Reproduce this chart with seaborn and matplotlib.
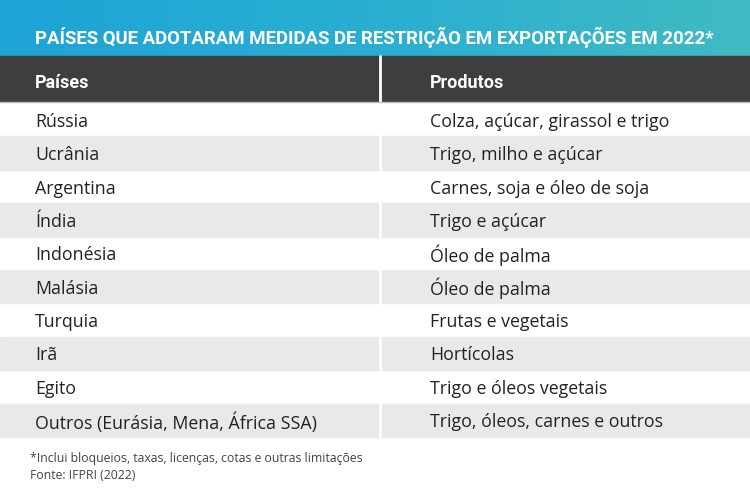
import numpy as np
import pandas as pd
import matplotlib
matplotlib.use('Agg')
import matplotlib.pyplot as plt
import seaborn as sns
from matplotlib.colors import LinearSegmentedColormap

titulo = 'PAÍSES QUE ADOTARAM MEDIDAS DE RESTRIÇÃO EM EXPORTAÇÕES EM 2022*'
cabecalho = ['Países', 'Produtos']
paises = ['Rússia', 'Ucrânia', 'Argentina', 'Índia', 'Indonésia', 'Malásia',
          'Turquia', 'Irã', 'Egito', 'Outros (Eurásia, Mena, África SSA)']
produtos = ['Colza, açúcar, girassol e trigo', 'Trigo, milho e açúcar',
            'Carnes, soja e óleo de soja', 'Trigo e açúcar', 'Óleo de palma',
            'Óleo de palma', 'Frutas e vegetais', 'Hortícolas',
            'Trigo e óleos vegetais', 'Trigo, óleos, carnes e outros']
nota = '*Inclui bloqueios, taxas, licenças, cotas e outras limitações'
fonte = 'Fonte: IFPRI (2022)'

tabela = pd.DataFrame({'pais': paises, 'produto': produtos})

sns.set_theme(style='white')
plt.rcParams['font.family'] = ['Open Sans', 'DejaVu Sans']

fig = plt.figure(figsize=(7.5, 4.9), dpi=100)
ax = fig.add_axes([0, 0, 1, 1])
ax.set_xlim(0, 750)
ax.set_ylim(490, 0)
ax.axis('off')

# faixa do titulo com degrade
grad = LinearSegmentedColormap.from_list('g', ['#1ea4d6', '#2aafd2', '#41bbc2'])
ax.imshow(np.linspace(0, 1, 256)[None, :], cmap=grad, aspect='auto',
          extent=[0, 750, 56, 0], zorder=0)
ax.text(35, 35, titulo, color='white', fontsize=13.4, fontweight='bold',
        family='Roboto', va='center_baseline', ha='left')

# cabecalho
ax.axhspan(56, 101, color='#3e3e3e', zorder=1)
ax.text(35, 81, cabecalho[0], color='white', fontsize=13, fontweight='bold',
        family='Roboto', va='center_baseline')
ax.text(430, 81, cabecalho[1], color='white', fontsize=13, fontweight='bold',
        family='Roboto', va='center_baseline')

# linhas da tabela
topo, alt = 103, 33.4
for i, row in tabela.iterrows():
    y0 = topo + i * alt
    if i % 2 == 1:
        ax.axhspan(y0, y0 + alt, color='#e9e9e9', zorder=1)
    yc = y0 + alt / 2
    ax.text(35, yc, row['pais'], fontsize=12.8, color='#222222',
            va='center_baseline', zorder=3)
    ax.text(430, yc, row['produto'], fontsize=12.8, color='#222222',
            va='center_baseline', zorder=3)

ax.plot([380, 380], [56, topo + len(tabela) * alt], color='white', lw=2, zorder=2)
ax.plot([0, 750], [102, 102], color='#bdbdbd', lw=1, zorder=2)

ax.text(30, 457, nota, fontsize=8.8, color='#444444', va='center_baseline')
ax.text(30, 474, fonte, fontsize=8.8, color='#444444', va='center_baseline')

fig.savefig('out.png', dpi=100)
